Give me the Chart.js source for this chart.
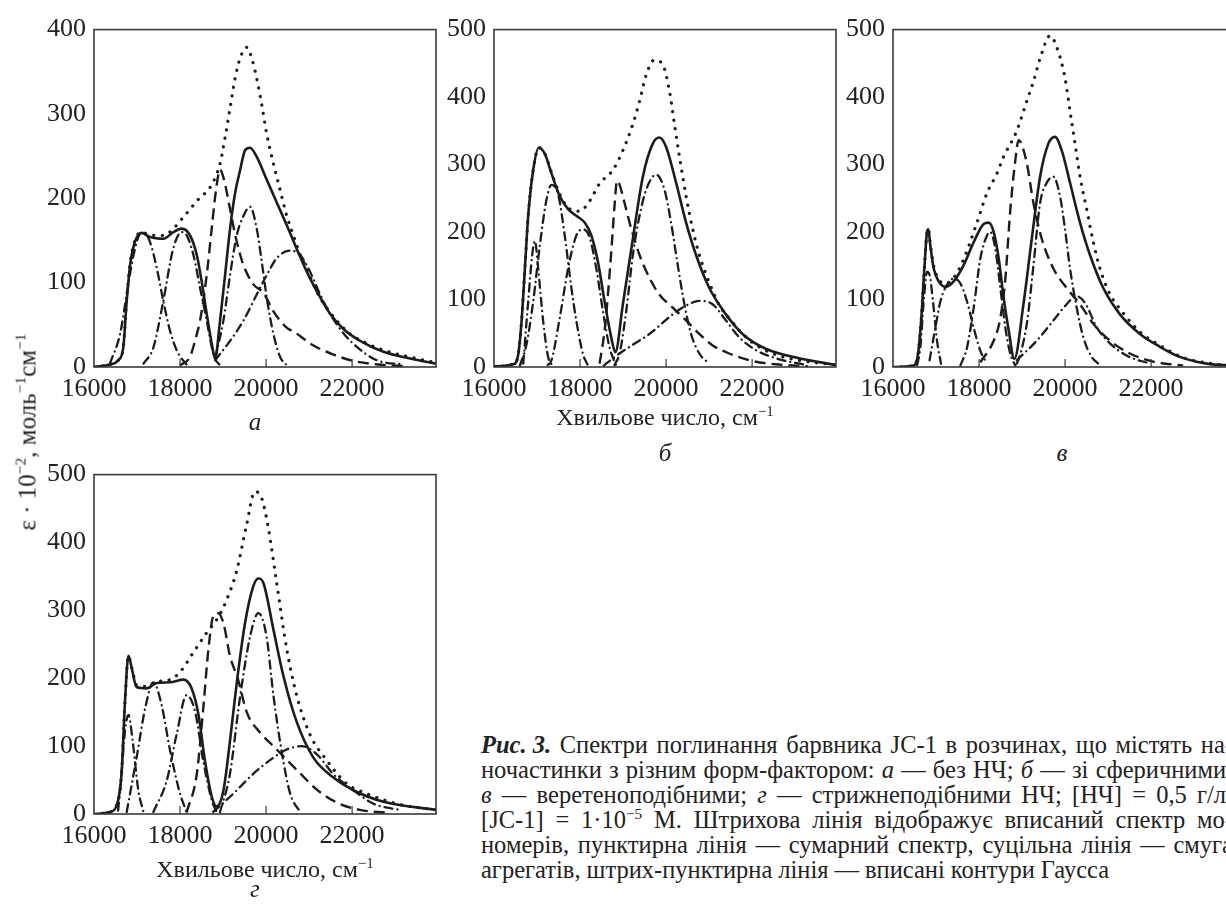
<!DOCTYPE html>
<html lang="uk">
<head>
<meta charset="UTF-8" />
<title>Рис. 3</title>
<script src="https://cdn.jsdelivr.net/npm/chart.js"></script>
<style>
  html, body { margin: 0; padding: 0; background: #fff; }
  body {
    width: 1226px; height: 906px; overflow: hidden; position: relative;
    font-family: "Liberation Serif", serif; color: #222;
  }
  canvas { position: absolute; }
  .lbl { position: absolute; white-space: nowrap; line-height: 1; }
  .letter { font-style: italic; font-size: 25px; transform: translateX(-50%); }
  .xtitle { font-size: 24px; transform: translateX(-50%); }
  .ytitle { font-size: 25px; transform: translate(-50%, -50%) rotate(-90deg); }
  sup { font-size: 0.62em; vertical-align: 0.62em; line-height: 0; }
  #caption { position: absolute; left: 481px; top: 732px; width: 752px; font-size: 24.5px; line-height: 25px; }
  #caption .ln { display: flex; justify-content: space-between; white-space: nowrap; height: 25px; }
  #caption .ln.last { justify-content: flex-start; gap: 6px; }
</style>
</head>
<body>
  <canvas id="chartA" width="450" height="406" style="left:0px; top:6px"></canvas>
  <canvas id="chartB" width="450" height="406" style="left:400px; top:6px"></canvas>
  <canvas id="chartC" width="450" height="406" style="left:799px; top:6px"></canvas>
  <canvas id="chartD" width="450" height="408" style="left:0px; top:451px"></canvas>

  <div class="lbl ytitle" style="left:27px; top:432px">ε · 10<sup>−2</sup>, моль<sup>−1</sup>см<sup>−1</sup></div>
  <div class="lbl xtitle" style="left:665px; top:405px">Хвильове число, см<sup>−1</sup></div>
  <div class="lbl xtitle" style="left:265px; top:857px">Хвильове число, см<sup>−1</sup></div>
  <div class="lbl letter" style="left:255px; top:409px">а</div>
  <div class="lbl letter" style="left:665px; top:440px">б</div>
  <div class="lbl letter" style="left:1062px; top:440px">в</div>
  <div class="lbl letter" style="left:255px; top:876px">г</div>

  <div id="caption"></div>

  <script>
    // axes
    const xTicks = [16000, 18000, 20000, 22000];
    const xMin = 16000;
    const xMax = 23950;
    const yTicksA = [0, 100, 200, 300, 400];
    const yTicksB = [0, 100, 200, 300, 400, 500];

    // panel а (без НЧ)
    const aSolid = [[16000,0],[16370,3],[16565,8],[16680,23],[16760,78],[16840,121],[16950,148],[17110,159],[17300,154],[17612,152],[17845,160],[18039,164],[18233,156],[18388,133],[18504,101],[18620,63],[18736,28],[18814,10],[18930,55],[19047,109],[19163,164],[19279,206],[19395,233],[19512,257],[19628,260],[19783,249],[20016,222],[20248,195],[20481,168],[20713,140],[20946,113],[21178,90],[21488,63],[21798,45],[22186,31],[22728,18],[23349,10],[23950,4]];
    const aSum = [[16000,0],[16370,3],[16565,8],[16680,23],[16760,80],[16840,123],[16950,150],[17110,160],[17302,156],[17612,156],[17845,164],[18000,173],[18233,187],[18465,201],[18659,210],[18814,224],[18930,241],[19047,272],[19163,307],[19279,342],[19395,366],[19551,379],[19667,366],[19783,342],[19899,311],[20016,276],[20171,241],[20326,210],[20481,179],[20636,156],[20791,133],[20946,117],[21101,98],[21256,82],[21411,70],[21643,55],[21953,39],[22341,28],[22728,20],[23504,10],[23950,5]];
    const aMono = [[18000,2],[18230,12],[18390,39],[18465,55],[18620,109],[18736,164],[18837,210],[18930,234],[19023,222],[19163,187],[19302,152],[19473,121],[19705,98],[19938,88],[20171,66],[20450,48],[20700,40],[21050,27],[21550,15],[22050,7],[22600,3],[23300,1]];
    const aG1 = [[16370,4],[16605,39],[16760,86],[16915,132],[17070,158],[17150,160],[17302,148],[17460,117],[17612,78],[17767,43],[17922,20],[18039,10],[18150,3]];
    const aG2 = [[17150,4],[17380,23],[17610,78],[17840,140],[18040,160],[18155,156],[18310,133],[18465,94],[18620,55],[18736,24],[18814,10],[18930,2]];
    const aG3 = [[18814,10],[19008,55],[19163,109],[19318,156],[19473,179],[19628,190],[19783,164],[19899,125],[20016,82],[20171,39],[20326,12],[20481,2]];
    const aG4 = [[18814,8],[19163,31],[19473,55],[19783,86],[20016,109],[20248,129],[20558,138],[20791,133],[21023,113],[21256,86],[21488,63],[21798,40],[22108,24],[22573,8],[23194,3]];

    // panel б (сферичні НЧ)
    const bSolid = [[16000,1],[16448,4],[16564,19],[16641,68],[16718,146],[16795,224],[16911,292],[17042,325],[17181,316],[17336,287],[17529,253],[17722,234],[17915,224],[18108,214],[18262,195],[18416,156],[18571,97],[18725,44],[18820,22],[18996,93],[19228,190],[19460,282],[19691,331],[19846,340],[20001,326],[20233,273],[20465,214],[20697,166],[21005,117],[21392,78],[21777,49],[22318,27],[23090,13],[23950,3]];
    const bSum = [[16000,1],[16448,4],[16564,19],[16641,68],[16718,146],[16795,224],[16911,292],[17042,325],[17181,316],[17336,288],[17529,256],[17722,236],[17992,231],[18223,246],[18456,272],[18765,292],[18996,321],[19228,360],[19383,394],[19538,433],[19730,455],[19923,448],[20078,409],[20194,360],[20310,312],[20465,253],[20620,204],[20773,166],[21005,125],[21236,92],[21545,66],[21932,40],[22472,20],[23090,10],[23950,3]];
    const bMono = [[18455,5],[18571,54],[18648,107],[18725,170],[18802,239],[18860,276],[18920,270],[19035,243],[19190,205],[19383,166],[19614,132],[19846,107],[20155,88],[20465,69],[20773,49],[21082,32],[21468,20],[21932,10],[22550,4],[23300,1]];
    const bG1 = [[16679,5],[16795,97],[16888,166],[16950,187],[17027,146],[17143,68],[17258,15],[17374,1]];
    const bG2 = [[16602,2],[16757,34],[16911,97],[17065,180],[17220,248],[17336,270],[17490,256],[17644,195],[17799,117],[17915,68],[18069,19],[18185,2]];
    const bG3 = [[17250,3],[17336,10],[17529,73],[17722,146],[17915,195],[18069,204],[18223,192],[18378,146],[18532,83],[18686,29],[18841,2]];
    const bG4 = [[18800,3],[18919,20],[19074,83],[19228,166],[19383,224],[19538,263],[19769,285],[19962,263],[20116,214],[20271,151],[20426,93],[20580,49],[20773,20],[21005,5]];
    const bG5 = [[18550,2],[18804,15],[19228,33],[19614,49],[20155,78],[20465,91],[20773,98],[21082,93],[21392,69],[21700,44],[22087,25],[22550,13],[23245,3]];

    // panel в (веретеноподібні НЧ)
    const cSolid = [[16000,0],[16480,2],[16581,19],[16659,73],[16729,146],[16791,200],[16822,204],[16868,180],[16946,146],[17062,127],[17217,119],[17411,127],[17643,151],[17876,185],[18108,212],[18224,214],[18341,200],[18457,161],[18573,102],[18690,54],[18820,12],[19032,93],[19226,190],[19419,282],[19612,331],[19767,341],[19922,321],[20115,273],[20347,214],[20579,166],[20888,117],[21276,78],[21740,49],[22204,30],[22668,15],[23288,5],[23950,2]];
    const cSum = [[16000,0],[16480,2],[16581,19],[16659,73],[16729,146],[16791,200],[16822,205],[16868,182],[16946,150],[17062,130],[17217,124],[17411,132],[17643,160],[17953,214],[18186,258],[18418,287],[18567,311],[18878,350],[19110,394],[19264,423],[19419,457],[19651,491],[19844,467],[19999,428],[20115,379],[20231,331],[20347,282],[20502,234],[20656,185],[20811,146],[21043,108],[21352,80],[21740,52],[22204,32],[22745,14],[23520,4],[23950,1]];
    const cMono = [[18030,7],[18340,39],[18496,73],[18610,130],[18728,234],[18845,307],[18920,336],[19110,302],[19264,243],[19458,190],[19728,146],[20038,117],[20347,93],[20656,64],[21043,39],[21507,20],[22049,8],[22745,2]];
    const cG1 = [[16560,3],[16636,29],[16713,97],[16791,141],[16853,136],[16930,97],[17023,39],[17116,5]];
    const cG2 = [[16850,10],[16984,58],[17101,97],[17256,122],[17411,131],[17566,124],[17721,97],[17876,58],[18031,24],[18186,5]];
    const cG3 = [[17566,2],[17721,29],[17876,88],[18031,161],[18186,195],[18263,200],[18379,175],[18496,117],[18612,58],[18728,19],[18845,2]];
    const cG4 = [[18880,5],[18960,19],[19120,68],[19264,150],[19419,243],[19574,273],[19728,282],[19883,253],[19999,204],[20115,146],[20270,88],[20424,44],[20618,15],[20811,3]];
    const cG5 = [[18878,10],[19342,39],[19728,69],[20038,93],[20255,105],[20463,95],[20734,59],[21043,35],[21430,17],[21972,5]];

    // panel г (стрижнеподібні НЧ)
    const dSolid = [[16000,0],[16370,3],[16530,13],[16640,59],[16720,165],[16800,233],[16880,214],[16990,187],[17220,185],[17460,193],[17770,194],[18080,198],[18270,185],[18430,146],[18580,78],[18740,25],[18850,11],[19010,35],[19160,107],[19320,194],[19510,281],[19700,335],[19820,347],[19940,340],[20170,272],[20400,204],[20710,136],[21100,83],[21560,54],[22030,35],[22730,18],[23950,6]];
    const dSum = [[16000,0],[16370,3],[16530,13],[16640,59],[16720,165],[16800,233],[16880,215],[16990,190],[17220,188],[17460,195],[17770,198],[18000,209],[18310,238],[18620,267],[18850,286],[19080,315],[19320,359],[19550,427],[19740,475],[19900,465],[20050,422],[20250,339],[20480,243],[20710,175],[21020,117],[21400,80],[21870,45],[22340,30],[23110,14],[23950,6]];
    const dMono = [[18150,2],[18390,59],[18540,156],[18660,243],[18770,291],[18880,296],[19010,281],[19160,233],[19350,198],[19550,150],[19860,120],[20170,100],[20480,80],[20790,60],[21180,36],[21640,17],[22180,6],[22800,2]];
    const dG1 = [[16560,5],[16640,59],[16720,122],[16800,146],[16900,107],[17030,35],[17150,3]];
    const dG2 = [[16760,3],[16990,83],[17190,156],[17380,194],[17570,161],[17770,93],[18000,30],[18150,3]];
    const dG3 = [[17380,3],[17690,49],[17920,117],[18150,175],[18350,151],[18540,78],[18740,20],[18850,3]];
    const dG4 = [[18930,3],[19160,59],[19390,170],[19630,262],[19820,296],[20010,262],[20170,175],[20360,93],[20560,30],[20790,3]];
    const dG5 = [[18770,3],[19240,30],[19700,59],[20170,83],[20480,95],[20830,100],[21180,88],[21560,59],[22030,35],[22500,15],[23110,6]];

    const captionLines = [
      "<b><i>Рис.&nbsp;3.</i></b> Спектри поглинання барвника JC-1 в розчинах, що містять на-",
      "ночастинки з різним форм-фактором: <i>а</i> — без НЧ; <i>б</i> — зі сферичними;",
      "<i>в</i> — веретеноподібними; <i>г</i> — стрижнеподібними НЧ; [НЧ] = 0,5 г/л;",
      "[JC-1] = 1·10<sup>−5</sup> М. Штрихова лінія відображує вписаний спектр мо-",
      "номерів, пунктирна лінія — сумарний спектр, суцільна лінія — смуга",
      "агрегатів, штрих-пунктирна лінія — вписані контури Гаусса"
    ];

    const ink = "#1c1c1c";
    const styles = {
      solid: { borderDash: [], borderWidth: 2.6, borderCapStyle: "butt" },
      dashed: { borderDash: [11, 6], borderWidth: 2.4, borderCapStyle: "butt" },
      dotted: { borderDash: [0.1, 8.5], borderWidth: 3.2, borderCapStyle: "round" },
      dashdot: { borderDash: [8, 5, 0.1, 5], borderWidth: 2.3, borderCapStyle: "round" },
    };

    function line(points, kind) {
      return {
        data: points.map(([x, y]) => ({ x, y })),
        borderColor: ink,
        pointRadius: 0,
        fill: false,
        cubicInterpolationMode: "monotone",
        ...styles[kind],
      };
    }

    // plot box + small inward ticks on the x axis
    const framePlugin = {
      id: "frame",
      afterDatasetsDraw(chart) {
        const { ctx, chartArea: a, scales } = chart;
        ctx.save();
        ctx.strokeStyle = "#3a3a3a";
        ctx.lineWidth = 1.6;
        ctx.setLineDash([]);
        ctx.strokeRect(a.left, a.top, a.right - a.left, a.bottom - a.top);
        ctx.lineWidth = 1.2;
        xTicks.slice(1).forEach((v) => {
          const px = scales.x.getPixelForValue(v);
          ctx.beginPath();
          ctx.moveTo(px, a.bottom);
          ctx.lineTo(px, a.bottom - 8);
          ctx.stroke();
        });
        ctx.restore();
      },
    };

    const tickFont = { family: "Liberation Serif", size: 26 };

    function makeChart(id, yTicks, datasets) {
      return new Chart(document.getElementById(id), {
        type: "line",
        data: { datasets },
        options: {
          responsive: false,
          animation: false,
          events: [],
          layout: { padding: { top: 18, right: 14, left: 0, bottom: 0 } },
          plugins: { legend: { display: false }, tooltip: { enabled: false } },
          scales: {
            x: {
              type: "linear",
              min: xMin,
              max: xMax,
              grid: { display: false, drawTicks: false },
              border: { display: false },
              afterBuildTicks: (s) => { s.ticks = xTicks.map((v) => ({ value: v })); },
              afterFit: (s) => { s.height = 45; },
              ticks: { font: tickFont, color: "#222", padding: 7, maxRotation: 0, autoSkip: false, callback: (v) => String(v) },
            },
            y: {
              min: 0,
              max: yTicks[yTicks.length - 1],
              grid: { display: false, drawTicks: false },
              border: { display: false },
              afterBuildTicks: (s) => { s.ticks = yTicks.map((v) => ({ value: v })); },
              afterFit: (s) => { s.width = 94; },
              ticks: { font: tickFont, color: "#222", padding: 8, callback: (v) => String(v) },
            },
          },
        },
        plugins: [framePlugin],
      });
    }

    makeChart("chartA", yTicksA, [
      line(aG1, "dashdot"), line(aG2, "dashdot"), line(aG3, "dashdot"), line(aG4, "dashdot"),
      line(aMono, "dashed"), line(aSum, "dotted"), line(aSolid, "solid"),
    ]);
    makeChart("chartB", yTicksB, [
      line(bG1, "dashdot"), line(bG2, "dashdot"), line(bG3, "dashdot"), line(bG4, "dashdot"), line(bG5, "dashdot"),
      line(bMono, "dashed"), line(bSum, "dotted"), line(bSolid, "solid"),
    ]);
    makeChart("chartC", yTicksB, [
      line(cG1, "dashdot"), line(cG2, "dashdot"), line(cG3, "dashdot"), line(cG4, "dashdot"), line(cG5, "dashdot"),
      line(cMono, "dashed"), line(cSum, "dotted"), line(cSolid, "solid"),
    ]);
    makeChart("chartD", yTicksB, [
      line(dG1, "dashdot"), line(dG2, "dashdot"), line(dG3, "dashdot"), line(dG4, "dashdot"), line(dG5, "dashdot"),
      line(dMono, "dashed"), line(dSum, "dotted"), line(dSolid, "solid"),
    ]);

    // caption: justified lines built from words
    const cap = document.getElementById("caption");
    captionLines.forEach((txt, i) => {
      const row = document.createElement("div");
      row.className = "ln" + (i === captionLines.length - 1 ? " last" : "");
      txt.split(" ").forEach((w) => {
        const span = document.createElement("span");
        span.innerHTML = w;
        row.appendChild(span);
      });
      cap.appendChild(row);
    });
  </script>
</body>
</html>
